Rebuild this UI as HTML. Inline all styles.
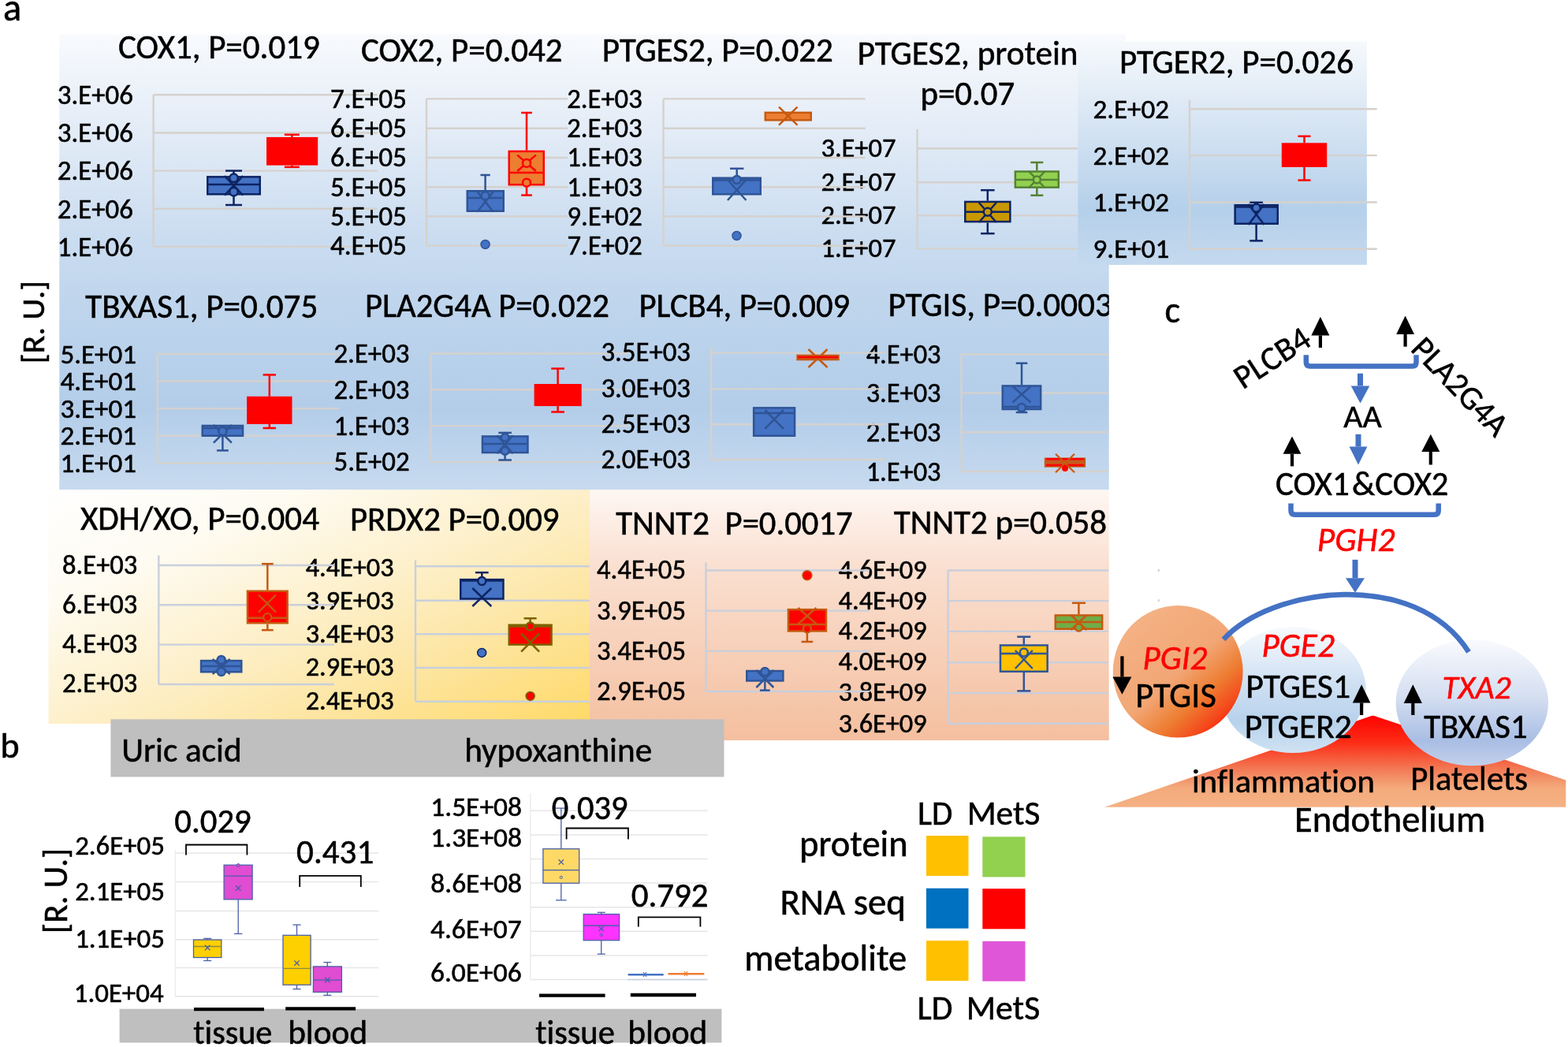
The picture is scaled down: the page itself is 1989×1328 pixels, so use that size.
<!DOCTYPE html>
<html><head><meta charset="utf-8"><title>Figure</title><style>html,body{margin:0;padding:0;background:#fff;}svg{display:block;}text{font-variant-ligatures:none;font-feature-settings:"liga" 0,"clig" 0;}</style></head><body>
<svg width="1989" height="1328" viewBox="0 0 1989 1328" font-family="Carlito, 'Liberation Sans', Arial, sans-serif">
<defs>
<linearGradient id="gBlue" gradientUnits="userSpaceOnUse" x1="0" y1="44" x2="0" y2="621">
 <stop offset="0" stop-color="#f8fafd"/>
 <stop offset="0.13" stop-color="#ebf1f9"/>
 <stop offset="0.27" stop-color="#dde8f5"/>
 <stop offset="0.45" stop-color="#cadcf0"/>
 <stop offset="0.62" stop-color="#bdd4ec"/>
 <stop offset="0.82" stop-color="#b3cde9"/>
 <stop offset="1" stop-color="#c7daef"/>
</linearGradient>
<linearGradient id="gBlue2" gradientUnits="userSpaceOnUse" x1="0" y1="53" x2="0" y2="336">
 <stop offset="0" stop-color="#f6f9fc"/>
 <stop offset="0.3" stop-color="#dce8f5"/>
 <stop offset="0.75" stop-color="#b5d0ea"/>
 <stop offset="1" stop-color="#c4d9ee"/>
</linearGradient>
<linearGradient id="gYel" x1="0" y1="0" x2="1" y2="1">
 <stop offset="0" stop-color="#ffffff"/>
 <stop offset="0.25" stop-color="#fefbf2"/>
 <stop offset="0.5" stop-color="#fdf0cc"/>
 <stop offset="0.72" stop-color="#fde6a4"/>
 <stop offset="1" stop-color="#ffd966"/>
</linearGradient>
<linearGradient id="gOra" gradientUnits="userSpaceOnUse" x1="0" y1="621" x2="0" y2="939">
 <stop offset="0" stop-color="#fef7f3"/>
 <stop offset="0.3" stop-color="#fae0d1"/>
 <stop offset="1" stop-color="#f4bf9f"/>
</linearGradient>
<linearGradient id="gPGI" gradientUnits="userSpaceOnUse" x1="1445" y1="790" x2="1565" y2="925">
 <stop offset="0" stop-color="#f4b183"/>
 <stop offset="0.45" stop-color="#f2a675"/>
 <stop offset="0.68" stop-color="#ed7d31"/>
 <stop offset="0.86" stop-color="#f5461b"/>
 <stop offset="1" stop-color="#ff0000"/>
</linearGradient>
<linearGradient id="gPGE" x1="0" y1="0" x2="0" y2="1">
 <stop offset="0" stop-color="#f7fafd"/>
 <stop offset="0.45" stop-color="#cfe0f2"/>
 <stop offset="0.75" stop-color="#b7d2ec"/>
 <stop offset="1" stop-color="#d0e2f3"/>
</linearGradient>
<linearGradient id="gTXA" x1="0" y1="0" x2="0" y2="1">
 <stop offset="0" stop-color="#f9fafd"/>
 <stop offset="0.45" stop-color="#d5dff1"/>
 <stop offset="0.8" stop-color="#a9bee4"/>
 <stop offset="1" stop-color="#c3d0ec"/>
</linearGradient>
<linearGradient id="gMnt" gradientUnits="userSpaceOnUse" x1="0" y1="905" x2="0" y2="1023">
 <stop offset="0" stop-color="#ff0000"/>
 <stop offset="0.3" stop-color="#fd2a14"/>
 <stop offset="0.6" stop-color="#f27a55"/>
 <stop offset="0.8" stop-color="#f4aa7c"/>
 <stop offset="1" stop-color="#f4b183"/>
</linearGradient>
<clipPath id="clipA"><rect x="0" y="0" width="1406.7" height="1328"/></clipPath>
</defs>
<rect x="0" y="0" width="1989" height="1328" fill="#fff"/>
<rect x="61.5" y="610.5" width="686.5" height="307.5" fill="url(#gYel)"/>
<rect x="748" y="620" width="658.7" height="319" fill="url(#gOra)"/>
<path d="M75.3 43.6 H1427.5 V336 H1406.7 V621 H75.3 Z" fill="url(#gBlue)"/>
<rect x="1367.3" y="52.5" width="366.6" height="283.4" fill="url(#gBlue2)"/>
<text x="72.83" y="132.1" font-size="34.82" textLength="96.09" lengthAdjust="spacingAndGlyphs" stroke="#000" stroke-width="0.55">3.E+06</text>
<text x="72.83" y="180.25" font-size="34.82" textLength="96.09" lengthAdjust="spacingAndGlyphs" stroke="#000" stroke-width="0.55">3.E+06</text>
<text x="72.83" y="228.4" font-size="34.82" textLength="96.09" lengthAdjust="spacingAndGlyphs" stroke="#000" stroke-width="0.55">2.E+06</text>
<text x="72.83" y="276.55" font-size="34.82" textLength="96.09" lengthAdjust="spacingAndGlyphs" stroke="#000" stroke-width="0.55">2.E+06</text>
<text x="72.83" y="324.7" font-size="34.82" textLength="96.09" lengthAdjust="spacingAndGlyphs" stroke="#000" stroke-width="0.55">1.E+06</text>
<text x="1041.45" y="198.7" font-size="34.41" textLength="94.96" lengthAdjust="spacingAndGlyphs" stroke="#000" stroke-width="0.55">3.E+07</text>
<text x="1041.45" y="241.7" font-size="34.41" textLength="94.96" lengthAdjust="spacingAndGlyphs" stroke="#000" stroke-width="0.55">2.E+07</text>
<text x="1041.45" y="283.9" font-size="34.41" textLength="94.96" lengthAdjust="spacingAndGlyphs" stroke="#000" stroke-width="0.55">2.E+07</text>
<text x="1041.45" y="325.9" font-size="34.41" textLength="94.96" lengthAdjust="spacingAndGlyphs" stroke="#000" stroke-width="0.55">1.E+07</text>
<text x="1386.42" y="149.7" font-size="35.03" textLength="96.66" lengthAdjust="spacingAndGlyphs" stroke="#000" stroke-width="0.55">2.E+02</text>
<text x="1386.42" y="208.6" font-size="35.03" textLength="96.66" lengthAdjust="spacingAndGlyphs" stroke="#000" stroke-width="0.55">2.E+02</text>
<text x="1386.42" y="268" font-size="35.03" textLength="96.66" lengthAdjust="spacingAndGlyphs" stroke="#000" stroke-width="0.55">1.E+02</text>
<text x="1386.6" y="327.2" font-size="35.03" textLength="96.66" lengthAdjust="spacingAndGlyphs" stroke="#000" stroke-width="0.55">9.E+01</text>
<text x="76.42" y="460.5" font-size="35.02" textLength="96.63" lengthAdjust="spacingAndGlyphs" stroke="#000" stroke-width="0.55">5.E+01</text>
<text x="76.42" y="495.07" font-size="35.02" textLength="96.63" lengthAdjust="spacingAndGlyphs" stroke="#000" stroke-width="0.55">4.E+01</text>
<text x="76.42" y="529.65" font-size="35.02" textLength="96.63" lengthAdjust="spacingAndGlyphs" stroke="#000" stroke-width="0.55">3.E+01</text>
<text x="76.42" y="564.23" font-size="35.02" textLength="96.63" lengthAdjust="spacingAndGlyphs" stroke="#000" stroke-width="0.55">2.E+01</text>
<text x="76.42" y="598.8" font-size="35.02" textLength="96.63" lengthAdjust="spacingAndGlyphs" stroke="#000" stroke-width="0.55">1.E+01</text>
<text x="1098.68" y="460.5" font-size="34.35" textLength="94.8" lengthAdjust="spacingAndGlyphs" stroke="#000" stroke-width="0.55">4.E+03</text>
<text x="1098.68" y="510" font-size="34.35" textLength="94.8" lengthAdjust="spacingAndGlyphs" stroke="#000" stroke-width="0.55">3.E+03</text>
<text x="1098.68" y="560" font-size="34.35" textLength="94.8" lengthAdjust="spacingAndGlyphs" stroke="#000" stroke-width="0.55">2.E+03</text>
<text x="1098.68" y="609.6" font-size="34.35" textLength="94.8" lengthAdjust="spacingAndGlyphs" stroke="#000" stroke-width="0.55">1.E+03</text>
<text x="79.12" y="727.6" font-size="34.49" textLength="95.17" lengthAdjust="spacingAndGlyphs" stroke="#000" stroke-width="0.55">8.E+03</text>
<text x="79.12" y="777.8" font-size="34.49" textLength="95.17" lengthAdjust="spacingAndGlyphs" stroke="#000" stroke-width="0.55">6.E+03</text>
<text x="79.12" y="828.2" font-size="34.49" textLength="95.17" lengthAdjust="spacingAndGlyphs" stroke="#000" stroke-width="0.55">4.E+03</text>
<text x="79.12" y="878.4" font-size="34.49" textLength="95.17" lengthAdjust="spacingAndGlyphs" stroke="#000" stroke-width="0.55">2.E+03</text>
<text x="387.69" y="730.6" font-size="34.25" textLength="111.86" lengthAdjust="spacingAndGlyphs" stroke="#000" stroke-width="0.55">4.4E+03</text>
<text x="387.69" y="772.8" font-size="34.25" textLength="111.86" lengthAdjust="spacingAndGlyphs" stroke="#000" stroke-width="0.55">3.9E+03</text>
<text x="387.69" y="815" font-size="34.25" textLength="111.86" lengthAdjust="spacingAndGlyphs" stroke="#000" stroke-width="0.55">3.4E+03</text>
<text x="387.69" y="857.3" font-size="34.25" textLength="111.86" lengthAdjust="spacingAndGlyphs" stroke="#000" stroke-width="0.55">2.9E+03</text>
<text x="387.69" y="899.5" font-size="34.25" textLength="111.86" lengthAdjust="spacingAndGlyphs" stroke="#000" stroke-width="0.55">2.4E+03</text>
<text x="756.88" y="734.4" font-size="34.62" textLength="113.07" lengthAdjust="spacingAndGlyphs" stroke="#000" stroke-width="0.55">4.4E+05</text>
<text x="756.88" y="785.6" font-size="34.62" textLength="113.07" lengthAdjust="spacingAndGlyphs" stroke="#000" stroke-width="0.55">3.9E+05</text>
<text x="756.88" y="836.8" font-size="34.62" textLength="113.07" lengthAdjust="spacingAndGlyphs" stroke="#000" stroke-width="0.55">3.4E+05</text>
<text x="756.88" y="888" font-size="34.62" textLength="113.07" lengthAdjust="spacingAndGlyphs" stroke="#000" stroke-width="0.55">2.9E+05</text>
<text x="1063.59" y="734.4" font-size="34.32" textLength="112.09" lengthAdjust="spacingAndGlyphs" stroke="#000" stroke-width="0.55">4.6E+09</text>
<text x="1063.59" y="773" font-size="34.32" textLength="112.09" lengthAdjust="spacingAndGlyphs" stroke="#000" stroke-width="0.55">4.4E+09</text>
<text x="1063.59" y="811.2" font-size="34.32" textLength="112.09" lengthAdjust="spacingAndGlyphs" stroke="#000" stroke-width="0.55">4.2E+09</text>
<text x="1063.59" y="849.8" font-size="34.32" textLength="112.09" lengthAdjust="spacingAndGlyphs" stroke="#000" stroke-width="0.55">4.0E+09</text>
<text x="1063.59" y="889.2" font-size="34.32" textLength="112.09" lengthAdjust="spacingAndGlyphs" stroke="#000" stroke-width="0.55">3.8E+09</text>
<text x="1063.59" y="928.5" font-size="34.32" textLength="112.09" lengthAdjust="spacingAndGlyphs" stroke="#000" stroke-width="0.55">3.6E+09</text>
<text x="95.13" y="1084.4" font-size="34.85" textLength="113.83" lengthAdjust="spacingAndGlyphs" stroke="#000" stroke-width="0.55">2.6E+05</text>
<text x="95.13" y="1142.4" font-size="34.85" textLength="113.83" lengthAdjust="spacingAndGlyphs" stroke="#000" stroke-width="0.55">2.1E+05</text>
<text x="95.13" y="1202" font-size="34.85" textLength="113.83" lengthAdjust="spacingAndGlyphs" stroke="#000" stroke-width="0.55">1.1E+05</text>
<text x="93.74" y="1270.7" font-size="34.85" textLength="113.83" lengthAdjust="spacingAndGlyphs" stroke="#000" stroke-width="0.55">1.0E+04</text>
<text x="546.29" y="1035.4" font-size="35.41" textLength="115.67" lengthAdjust="spacingAndGlyphs" stroke="#000" stroke-width="0.55">1.5E+08</text>
<text x="546.29" y="1074.1" font-size="35.41" textLength="115.67" lengthAdjust="spacingAndGlyphs" stroke="#000" stroke-width="0.55">1.3E+08</text>
<text x="546.29" y="1131.5" font-size="35.41" textLength="115.67" lengthAdjust="spacingAndGlyphs" stroke="#000" stroke-width="0.55">8.6E+08</text>
<text x="545.94" y="1190.1" font-size="35.41" textLength="115.67" lengthAdjust="spacingAndGlyphs" stroke="#000" stroke-width="0.55">4.6E+07</text>
<text x="545.94" y="1245" font-size="35.41" textLength="115.67" lengthAdjust="spacingAndGlyphs" stroke="#000" stroke-width="0.55">6.0E+06</text>
<line x1="194.6" y1="120.3" x2="478.7" y2="120.3" stroke="#d5d1cd" stroke-width="2.4"/>
<line x1="194.6" y1="168.45" x2="478.7" y2="168.45" stroke="#d5d1cd" stroke-width="2.4"/>
<line x1="194.6" y1="216.6" x2="478.7" y2="216.6" stroke="#d5d1cd" stroke-width="2.4"/>
<line x1="194.6" y1="264.75" x2="478.7" y2="264.75" stroke="#d5d1cd" stroke-width="2.4"/>
<line x1="194.6" y1="312.9" x2="478.7" y2="312.9" stroke="#d5d1cd" stroke-width="2.4"/>
<line x1="194.6" y1="120.3" x2="194.6" y2="312.9" stroke="#d5d1cd" stroke-width="2.4"/>
<line x1="541" y1="125.4" x2="720" y2="125.4" stroke="#d5d1cd" stroke-width="2.4"/>
<line x1="541" y1="162.68" x2="720" y2="162.68" stroke="#d5d1cd" stroke-width="2.4"/>
<line x1="541" y1="199.96" x2="720" y2="199.96" stroke="#d5d1cd" stroke-width="2.4"/>
<line x1="541" y1="237.24" x2="720" y2="237.24" stroke="#d5d1cd" stroke-width="2.4"/>
<line x1="541" y1="274.52" x2="720" y2="274.52" stroke="#d5d1cd" stroke-width="2.4"/>
<line x1="541" y1="311.8" x2="720" y2="311.8" stroke="#d5d1cd" stroke-width="2.4"/>
<line x1="541" y1="125.4" x2="541" y2="311.8" stroke="#d5d1cd" stroke-width="2.4"/>
<line x1="841.5" y1="125.4" x2="1097.7" y2="125.4" stroke="#d5d1cd" stroke-width="2.4"/>
<line x1="841.5" y1="162.68" x2="1097.7" y2="162.68" stroke="#d5d1cd" stroke-width="2.4"/>
<line x1="841.5" y1="199.96" x2="1097.7" y2="199.96" stroke="#d5d1cd" stroke-width="2.4"/>
<line x1="841.5" y1="237.24" x2="1097.7" y2="237.24" stroke="#d5d1cd" stroke-width="2.4"/>
<line x1="841.5" y1="274.52" x2="1097.7" y2="274.52" stroke="#d5d1cd" stroke-width="2.4"/>
<line x1="841.5" y1="311.8" x2="1097.7" y2="311.8" stroke="#d5d1cd" stroke-width="2.4"/>
<line x1="841.5" y1="125.4" x2="841.5" y2="311.8" stroke="#d5d1cd" stroke-width="2.4"/>
<line x1="1163.5" y1="188.2" x2="1367" y2="188.2" stroke="#d5d1cd" stroke-width="2.4"/>
<line x1="1163.5" y1="231.2" x2="1367" y2="231.2" stroke="#d5d1cd" stroke-width="2.4"/>
<line x1="1163.5" y1="273.4" x2="1367" y2="273.4" stroke="#d5d1cd" stroke-width="2.4"/>
<line x1="1163.5" y1="315.4" x2="1367" y2="315.4" stroke="#d5d1cd" stroke-width="2.4"/>
<line x1="1163.5" y1="163.9" x2="1163.5" y2="315.4" stroke="#d5d1cd" stroke-width="2.4"/>
<line x1="1509" y1="138.2" x2="1746.7" y2="138.2" stroke="#d5d1cd" stroke-width="2.4"/>
<line x1="1509" y1="197.1" x2="1746.7" y2="197.1" stroke="#d5d1cd" stroke-width="2.4"/>
<line x1="1509" y1="256.5" x2="1746.7" y2="256.5" stroke="#d5d1cd" stroke-width="2.4"/>
<line x1="1509" y1="315.7" x2="1746.7" y2="315.7" stroke="#d5d1cd" stroke-width="2.4"/>
<line x1="1509" y1="126.7" x2="1509" y2="315.7" stroke="#d5d1cd" stroke-width="2.4"/>
<line x1="199.7" y1="449" x2="430" y2="449" stroke="#d5d1cd" stroke-width="2.4"/>
<line x1="199.7" y1="483.57" x2="430" y2="483.57" stroke="#d5d1cd" stroke-width="2.4"/>
<line x1="199.7" y1="518.15" x2="430" y2="518.15" stroke="#d5d1cd" stroke-width="2.4"/>
<line x1="199.7" y1="552.73" x2="430" y2="552.73" stroke="#d5d1cd" stroke-width="2.4"/>
<line x1="199.7" y1="587.3" x2="430" y2="587.3" stroke="#d5d1cd" stroke-width="2.4"/>
<line x1="199.7" y1="449" x2="199.7" y2="587.3" stroke="#d5d1cd" stroke-width="2.4"/>
<line x1="546.5" y1="448.5" x2="798.7" y2="448.5" stroke="#d5d1cd" stroke-width="2.4"/>
<line x1="546.5" y1="494.3" x2="798.7" y2="494.3" stroke="#d5d1cd" stroke-width="2.4"/>
<line x1="546.5" y1="540.1" x2="798.7" y2="540.1" stroke="#d5d1cd" stroke-width="2.4"/>
<line x1="546.5" y1="585.9" x2="798.7" y2="585.9" stroke="#d5d1cd" stroke-width="2.4"/>
<line x1="546.5" y1="448.5" x2="546.5" y2="585.9" stroke="#d5d1cd" stroke-width="2.4"/>
<line x1="902" y1="447.6" x2="1123.5" y2="447.6" stroke="#d5d1cd" stroke-width="2.4"/>
<line x1="902" y1="493.4" x2="1123.5" y2="493.4" stroke="#d5d1cd" stroke-width="2.4"/>
<line x1="902" y1="538.3" x2="1123.5" y2="538.3" stroke="#d5d1cd" stroke-width="2.4"/>
<line x1="902" y1="583" x2="1123.5" y2="583" stroke="#d5d1cd" stroke-width="2.4"/>
<line x1="902" y1="439.6" x2="902" y2="583" stroke="#d5d1cd" stroke-width="2.4"/>
<line x1="1219.5" y1="449.5" x2="1406.7" y2="449.5" stroke="#d5d1cd" stroke-width="2.4"/>
<line x1="1219.5" y1="498.6" x2="1406.7" y2="498.6" stroke="#d5d1cd" stroke-width="2.4"/>
<line x1="1219.5" y1="548.3" x2="1406.7" y2="548.3" stroke="#d5d1cd" stroke-width="2.4"/>
<line x1="1219.5" y1="598" x2="1406.7" y2="598" stroke="#d5d1cd" stroke-width="2.4"/>
<line x1="1219.5" y1="449.5" x2="1219.5" y2="598" stroke="#d5d1cd" stroke-width="2.4"/>
<line x1="201.3" y1="717" x2="424" y2="717" stroke="#c9cfdc" stroke-width="2.4"/>
<line x1="201.3" y1="767.2" x2="424" y2="767.2" stroke="#c9cfdc" stroke-width="2.4"/>
<line x1="201.3" y1="817.6" x2="424" y2="817.6" stroke="#c9cfdc" stroke-width="2.4"/>
<line x1="201.3" y1="868" x2="424" y2="868" stroke="#c9cfdc" stroke-width="2.4"/>
<line x1="201.3" y1="704.5" x2="201.3" y2="868" stroke="#c9cfdc" stroke-width="2.4"/>
<line x1="527" y1="718.3" x2="747.7" y2="718.3" stroke="#c9cfdc" stroke-width="2.4"/>
<line x1="527" y1="761.8" x2="747.7" y2="761.8" stroke="#c9cfdc" stroke-width="2.4"/>
<line x1="527" y1="804.3" x2="747.7" y2="804.3" stroke="#c9cfdc" stroke-width="2.4"/>
<line x1="527" y1="847" x2="747.7" y2="847" stroke="#c9cfdc" stroke-width="2.4"/>
<line x1="527" y1="889.8" x2="747.7" y2="889.8" stroke="#c9cfdc" stroke-width="2.4"/>
<line x1="527" y1="710.6" x2="527" y2="889.8" stroke="#c9cfdc" stroke-width="2.4"/>
<line x1="895.5" y1="723.5" x2="1103" y2="723.5" stroke="#c9cfdc" stroke-width="2.4"/>
<line x1="895.5" y1="774.6" x2="1103" y2="774.6" stroke="#c9cfdc" stroke-width="2.4"/>
<line x1="895.5" y1="825.9" x2="1103" y2="825.9" stroke="#c9cfdc" stroke-width="2.4"/>
<line x1="895.5" y1="877" x2="1103" y2="877" stroke="#c9cfdc" stroke-width="2.4"/>
<line x1="895.5" y1="713.5" x2="895.5" y2="877" stroke="#c9cfdc" stroke-width="2.4"/>
<line x1="1202.6" y1="723.5" x2="1406.2" y2="723.5" stroke="#c9cfdc" stroke-width="2.4"/>
<line x1="1202.6" y1="762.1" x2="1406.2" y2="762.1" stroke="#c9cfdc" stroke-width="2.4"/>
<line x1="1202.6" y1="800.9" x2="1406.2" y2="800.9" stroke="#c9cfdc" stroke-width="2.4"/>
<line x1="1202.6" y1="840.3" x2="1406.2" y2="840.3" stroke="#c9cfdc" stroke-width="2.4"/>
<line x1="1202.6" y1="879.1" x2="1406.2" y2="879.1" stroke="#c9cfdc" stroke-width="2.4"/>
<line x1="1202.6" y1="917.7" x2="1406.2" y2="917.7" stroke="#c9cfdc" stroke-width="2.4"/>
<line x1="1202.6" y1="723.5" x2="1202.6" y2="917.7" stroke="#c9cfdc" stroke-width="2.4"/>
<text x="418.92" y="136.9" font-size="35.15" textLength="96.99" lengthAdjust="spacingAndGlyphs" stroke="#000" stroke-width="0.55">7.E+05</text>
<text x="418.92" y="174.18" font-size="35.15" textLength="96.99" lengthAdjust="spacingAndGlyphs" stroke="#000" stroke-width="0.55">6.E+05</text>
<text x="418.92" y="211.46" font-size="35.15" textLength="96.99" lengthAdjust="spacingAndGlyphs" stroke="#000" stroke-width="0.55">6.E+05</text>
<text x="418.92" y="248.74" font-size="35.15" textLength="96.99" lengthAdjust="spacingAndGlyphs" stroke="#000" stroke-width="0.55">5.E+05</text>
<text x="418.92" y="286.02" font-size="35.15" textLength="96.99" lengthAdjust="spacingAndGlyphs" stroke="#000" stroke-width="0.55">5.E+05</text>
<text x="418.92" y="323.3" font-size="35.15" textLength="96.99" lengthAdjust="spacingAndGlyphs" stroke="#000" stroke-width="0.55">4.E+05</text>
<text x="719.24" y="136.9" font-size="34.59" textLength="95.45" lengthAdjust="spacingAndGlyphs" stroke="#000" stroke-width="0.55">2.E+03</text>
<text x="719.24" y="174.18" font-size="34.59" textLength="95.45" lengthAdjust="spacingAndGlyphs" stroke="#000" stroke-width="0.55">2.E+03</text>
<text x="719.24" y="211.46" font-size="34.59" textLength="95.45" lengthAdjust="spacingAndGlyphs" stroke="#000" stroke-width="0.55">1.E+03</text>
<text x="719.24" y="248.74" font-size="34.59" textLength="95.45" lengthAdjust="spacingAndGlyphs" stroke="#000" stroke-width="0.55">1.E+03</text>
<text x="719.42" y="286.02" font-size="34.59" textLength="95.45" lengthAdjust="spacingAndGlyphs" stroke="#000" stroke-width="0.55">9.E+02</text>
<text x="719.42" y="323.3" font-size="34.59" textLength="95.45" lengthAdjust="spacingAndGlyphs" stroke="#000" stroke-width="0.55">7.E+02</text>
<text x="423.41" y="460" font-size="34.82" textLength="96.09" lengthAdjust="spacingAndGlyphs" stroke="#000" stroke-width="0.55">2.E+03</text>
<text x="423.41" y="505.8" font-size="34.82" textLength="96.09" lengthAdjust="spacingAndGlyphs" stroke="#000" stroke-width="0.55">2.E+03</text>
<text x="423.41" y="551.6" font-size="34.82" textLength="96.09" lengthAdjust="spacingAndGlyphs" stroke="#000" stroke-width="0.55">1.E+03</text>
<text x="423.58" y="597.4" font-size="34.82" textLength="96.09" lengthAdjust="spacingAndGlyphs" stroke="#000" stroke-width="0.55">5.E+02</text>
<text x="762.44" y="458" font-size="34.76" textLength="113.52" lengthAdjust="spacingAndGlyphs" stroke="#000" stroke-width="0.55">3.5E+03</text>
<text x="762.44" y="504" font-size="34.76" textLength="113.52" lengthAdjust="spacingAndGlyphs" stroke="#000" stroke-width="0.55">3.0E+03</text>
<text x="762.44" y="549.3" font-size="34.76" textLength="113.52" lengthAdjust="spacingAndGlyphs" stroke="#000" stroke-width="0.55">2.5E+03</text>
<text x="762.44" y="594" font-size="34.76" textLength="113.52" lengthAdjust="spacingAndGlyphs" stroke="#000" stroke-width="0.55">2.0E+03</text>
<line x1="370.3" y1="170.8" x2="370.3" y2="173.9" stroke="#ff0000" stroke-width="2.5"/>
<line x1="360.8" y1="170.8" x2="379.8" y2="170.8" stroke="#ff0000" stroke-width="2.5"/>
<line x1="370.3" y1="209.7" x2="370.3" y2="211.9" stroke="#ff0000" stroke-width="2.5"/>
<line x1="360.8" y1="211.9" x2="379.8" y2="211.9" stroke="#ff0000" stroke-width="2.5"/>
<rect x="339.25" y="175.15" width="62.7" height="33.3" fill="#ff0000" stroke="#ff0000" stroke-width="2.5"/>
<line x1="296.5" y1="216.6" x2="296.5" y2="223.1" stroke="#0d2463" stroke-width="2.5"/>
<line x1="286" y1="216.6" x2="307" y2="216.6" stroke="#0d2463" stroke-width="2.5"/>
<line x1="296.5" y1="247.6" x2="296.5" y2="260" stroke="#0d2463" stroke-width="2.5"/>
<line x1="286" y1="260" x2="307" y2="260" stroke="#0d2463" stroke-width="2.5"/>
<rect x="263.25" y="224.35" width="66.5" height="22" fill="#4472c4" stroke="#0d2463" stroke-width="2.5"/>
<line x1="263.25" y1="234.1" x2="329.75" y2="234.1" stroke="#0d2463" stroke-width="2.5"/>
<line x1="284.9" y1="223.1" x2="308.1" y2="247.6" stroke="#0d2463" stroke-width="2.5"/>
<line x1="308.1" y1="223.1" x2="284.9" y2="247.6" stroke="#0d2463" stroke-width="2.5"/>
<circle cx="296.5" cy="225.8" r="5.2" fill="#4472c4" stroke="#0d2463" stroke-width="2.5"/>
<circle cx="296.5" cy="243.2" r="5.2" fill="#4472c4" stroke="#0d2463" stroke-width="2.5"/>
<line x1="668" y1="143" x2="668" y2="190.7" stroke="#ff0000" stroke-width="2.5"/>
<line x1="661.15" y1="143" x2="674.85" y2="143" stroke="#ff0000" stroke-width="2.5"/>
<line x1="668" y1="235.5" x2="668" y2="247.6" stroke="#ff0000" stroke-width="2.5"/>
<line x1="661.15" y1="247.6" x2="674.85" y2="247.6" stroke="#ff0000" stroke-width="2.5"/>
<rect x="645.75" y="191.95" width="44" height="42.3" fill="#ed7d31" stroke="#ff0000" stroke-width="2.5"/>
<line x1="645.75" y1="219" x2="689.75" y2="219" stroke="#ff0000" stroke-width="2.5"/>
<line x1="656.2" y1="196.6" x2="679.8" y2="217" stroke="#ff0000" stroke-width="2.5"/>
<line x1="679.8" y1="196.6" x2="656.2" y2="217" stroke="#ff0000" stroke-width="2.5"/>
<circle cx="668" cy="206.9" r="5" fill="#ed7d31" stroke="#ff0000" stroke-width="2.5"/>
<circle cx="668" cy="231.7" r="5" fill="#ed7d31" stroke="#ff0000" stroke-width="2.5"/>
<line x1="615.6" y1="222" x2="615.6" y2="241" stroke="#2f5597" stroke-width="2.5"/>
<line x1="609.45" y1="222" x2="621.75" y2="222" stroke="#2f5597" stroke-width="2.5"/>
<rect x="592.75" y="242.25" width="46" height="25.5" fill="#4472c4" stroke="#2f5597" stroke-width="2.5"/>
<line x1="592.75" y1="250.9" x2="638.75" y2="250.9" stroke="#2f5597" stroke-width="2.5"/>
<line x1="605.4" y1="243" x2="625.8" y2="268.8" stroke="#2f5597" stroke-width="2.5"/>
<line x1="625.8" y1="243" x2="605.4" y2="268.8" stroke="#2f5597" stroke-width="2.5"/>
<circle cx="615.6" cy="248.3" r="5" fill="#4472c4" stroke="#2f5597" stroke-width="2.5"/>
<circle cx="615.6" cy="310" r="5.5" fill="#4472c4" stroke="#2f5597" stroke-width="1.5"/>
<rect x="970.75" y="142.85" width="58" height="9.5" fill="#ed7d31" stroke="#c55a11" stroke-width="2.5"/>
<line x1="988" y1="135.7" x2="1011.5" y2="158.7" stroke="#c55a11" stroke-width="2.5"/>
<line x1="1011.5" y1="135.7" x2="988" y2="158.7" stroke="#c55a11" stroke-width="2.5"/>
<line x1="934.7" y1="213.8" x2="934.7" y2="224.5" stroke="#2f5597" stroke-width="2.5"/>
<line x1="926" y1="213.8" x2="943.4" y2="213.8" stroke="#2f5597" stroke-width="2.5"/>
<rect x="904.25" y="225.75" width="60.5" height="20.6" fill="#4472c4" stroke="#2f5597" stroke-width="2.5"/>
<line x1="904.25" y1="228.6" x2="964.75" y2="228.6" stroke="#2f5597" stroke-width="2.5"/>
<line x1="922.95" y1="228" x2="946.45" y2="254" stroke="#2f5597" stroke-width="2.5"/>
<line x1="946.45" y1="228" x2="922.95" y2="254" stroke="#2f5597" stroke-width="2.5"/>
<circle cx="934.7" cy="228" r="5" fill="#4472c4" stroke="#2f5597" stroke-width="2.5"/>
<circle cx="934.5" cy="299" r="5.5" fill="#4472c4" stroke="#2f5597" stroke-width="1.5"/>
<line x1="1252.8" y1="241.2" x2="1252.8" y2="254.7" stroke="#0d2463" stroke-width="2.5"/>
<line x1="1244" y1="241.2" x2="1261.6" y2="241.2" stroke="#0d2463" stroke-width="2.5"/>
<line x1="1252.8" y1="282.4" x2="1252.8" y2="296.2" stroke="#0d2463" stroke-width="2.5"/>
<line x1="1244" y1="296.2" x2="1261.6" y2="296.2" stroke="#0d2463" stroke-width="2.5"/>
<rect x="1224.25" y="255.95" width="57.1" height="25.2" fill="#c99700" stroke="#0d2463" stroke-width="2.5"/>
<line x1="1224.25" y1="268.8" x2="1281.35" y2="268.8" stroke="#0d2463" stroke-width="2.5"/>
<line x1="1241.8" y1="257" x2="1263.8" y2="282" stroke="#0d2463" stroke-width="2.5"/>
<line x1="1263.8" y1="257" x2="1241.8" y2="282" stroke="#0d2463" stroke-width="2.5"/>
<circle cx="1252.8" cy="268.8" r="5" fill="#c99700" stroke="#0d2463" stroke-width="2.5"/>
<line x1="1315.3" y1="206" x2="1315.3" y2="216.3" stroke="#548235" stroke-width="2.5"/>
<line x1="1307.3" y1="206" x2="1323.3" y2="206" stroke="#548235" stroke-width="2.5"/>
<line x1="1315.3" y1="238.9" x2="1315.3" y2="247.8" stroke="#548235" stroke-width="2.5"/>
<line x1="1307.3" y1="247.8" x2="1323.3" y2="247.8" stroke="#548235" stroke-width="2.5"/>
<rect x="1287.85" y="217.55" width="54.9" height="20.1" fill="#92d050" stroke="#548235" stroke-width="2.5"/>
<line x1="1287.85" y1="227.9" x2="1342.75" y2="227.9" stroke="#548235" stroke-width="2.5"/>
<line x1="1304.8" y1="217" x2="1325.8" y2="238.5" stroke="#548235" stroke-width="2.5"/>
<line x1="1325.8" y1="217" x2="1304.8" y2="238.5" stroke="#548235" stroke-width="2.5"/>
<circle cx="1315.3" cy="227.9" r="4.5" fill="#92d050" stroke="#548235" stroke-width="2.5"/>
<line x1="1654.5" y1="172.8" x2="1654.5" y2="181.3" stroke="#ff0000" stroke-width="2.5"/>
<line x1="1646.5" y1="172.8" x2="1662.5" y2="172.8" stroke="#ff0000" stroke-width="2.5"/>
<line x1="1654.5" y1="212" x2="1654.5" y2="228.6" stroke="#ff0000" stroke-width="2.5"/>
<line x1="1646.5" y1="228.6" x2="1662.5" y2="228.6" stroke="#ff0000" stroke-width="2.5"/>
<rect x="1627.05" y="182.55" width="54.9" height="28.2" fill="#ff0000" stroke="#ff0000" stroke-width="2.5"/>
<line x1="1593.6" y1="256.8" x2="1593.6" y2="259" stroke="#0d2463" stroke-width="2.5"/>
<line x1="1585.3" y1="256.8" x2="1601.9" y2="256.8" stroke="#0d2463" stroke-width="2.5"/>
<line x1="1593.6" y1="285" x2="1593.6" y2="305.4" stroke="#0d2463" stroke-width="2.5"/>
<line x1="1585.3" y1="305.4" x2="1601.9" y2="305.4" stroke="#0d2463" stroke-width="2.5"/>
<rect x="1566.65" y="260.25" width="54.1" height="23.5" fill="#4472c4" stroke="#0d2463" stroke-width="2.5"/>
<line x1="1566.65" y1="262.4" x2="1620.75" y2="262.4" stroke="#0d2463" stroke-width="2.5"/>
<line x1="1583.6" y1="259" x2="1603.6" y2="285" stroke="#0d2463" stroke-width="2.5"/>
<line x1="1603.6" y1="259" x2="1583.6" y2="285" stroke="#0d2463" stroke-width="2.5"/>
<circle cx="1593.6" cy="263.7" r="5" fill="#4472c4" stroke="#0d2463" stroke-width="2.5"/>
<line x1="341.8" y1="475.4" x2="341.8" y2="502.8" stroke="#ff0000" stroke-width="2.5"/>
<line x1="333.6" y1="475.4" x2="350" y2="475.4" stroke="#ff0000" stroke-width="2.5"/>
<line x1="341.8" y1="537.9" x2="341.8" y2="543" stroke="#ff0000" stroke-width="2.5"/>
<line x1="333.6" y1="543" x2="350" y2="543" stroke="#ff0000" stroke-width="2.5"/>
<rect x="314.35" y="504.05" width="54.9" height="32.6" fill="#ff0000" stroke="#ff0000" stroke-width="2.5"/>
<line x1="282.4" y1="554" x2="282.4" y2="571.4" stroke="#2f5597" stroke-width="2.5"/>
<line x1="275" y1="571.4" x2="289.8" y2="571.4" stroke="#2f5597" stroke-width="2.5"/>
<rect x="256.75" y="539.95" width="51.3" height="12.8" fill="#4472c4" stroke="#2f5597" stroke-width="2.5"/>
<line x1="256.75" y1="543" x2="308.05" y2="543" stroke="#2f5597" stroke-width="2.5"/>
<line x1="270.9" y1="539" x2="293.9" y2="561.7" stroke="#2f5597" stroke-width="2.5"/>
<line x1="293.9" y1="539" x2="270.9" y2="561.7" stroke="#2f5597" stroke-width="2.5"/>
<circle cx="282.4" cy="547" r="5" fill="#4472c4" stroke="#2f5597" stroke-width="2.5"/>
<line x1="707.6" y1="467.5" x2="707.6" y2="487" stroke="#ff0000" stroke-width="2.5"/>
<line x1="699.25" y1="467.5" x2="715.95" y2="467.5" stroke="#ff0000" stroke-width="2.5"/>
<line x1="707.6" y1="515.1" x2="707.6" y2="522.5" stroke="#ff0000" stroke-width="2.5"/>
<line x1="699.25" y1="522.5" x2="715.95" y2="522.5" stroke="#ff0000" stroke-width="2.5"/>
<rect x="678.85" y="488.25" width="57.6" height="25.6" fill="#ff0000" stroke="#ff0000" stroke-width="2.5"/>
<line x1="640.6" y1="548.9" x2="640.6" y2="552.2" stroke="#2f5597" stroke-width="2.5"/>
<line x1="632.3" y1="548.9" x2="648.9" y2="548.9" stroke="#2f5597" stroke-width="2.5"/>
<line x1="640.6" y1="575.3" x2="640.6" y2="583.5" stroke="#2f5597" stroke-width="2.5"/>
<line x1="632.3" y1="583.5" x2="648.9" y2="583.5" stroke="#2f5597" stroke-width="2.5"/>
<rect x="611.95" y="553.45" width="57.5" height="20.6" fill="#4472c4" stroke="#2f5597" stroke-width="2.5"/>
<line x1="611.95" y1="563" x2="669.45" y2="563" stroke="#2f5597" stroke-width="2.5"/>
<line x1="630.6" y1="552.2" x2="650.6" y2="575.3" stroke="#2f5597" stroke-width="2.5"/>
<line x1="650.6" y1="552.2" x2="630.6" y2="575.3" stroke="#2f5597" stroke-width="2.5"/>
<circle cx="640.6" cy="554.8" r="4.8" fill="#4472c4" stroke="#2f5597" stroke-width="2.5"/>
<circle cx="640.6" cy="572" r="4.8" fill="#4472c4" stroke="#2f5597" stroke-width="2.5"/>
<rect x="1011.55" y="450.95" width="51.9" height="5.1" fill="#c65a1e" stroke="#c55a11" stroke-width="2.5"/>
<line x1="1025.5" y1="443" x2="1049.5" y2="466" stroke="#c55a11" stroke-width="2.5"/>
<line x1="1049.5" y1="443" x2="1025.5" y2="466" stroke="#c55a11" stroke-width="2.5"/>
<rect x="956.15" y="517.35" width="51.9" height="35.4" fill="#4472c4" stroke="#2f5597" stroke-width="2.5"/>
<line x1="956.15" y1="524" x2="1008.05" y2="524" stroke="#2f5597" stroke-width="2.5"/>
<line x1="970.3" y1="520" x2="993.9" y2="543.9" stroke="#2f5597" stroke-width="2.5"/>
<line x1="993.9" y1="520" x2="970.3" y2="543.9" stroke="#2f5597" stroke-width="2.5"/>
<line x1="1296" y1="460.7" x2="1296" y2="488.2" stroke="#2f5597" stroke-width="2.5"/>
<line x1="1288.7" y1="460.7" x2="1303.3" y2="460.7" stroke="#2f5597" stroke-width="2.5"/>
<line x1="1296" y1="520.3" x2="1296" y2="523" stroke="#2f5597" stroke-width="2.5"/>
<line x1="1288.7" y1="523" x2="1303.3" y2="523" stroke="#2f5597" stroke-width="2.5"/>
<rect x="1271.75" y="489.45" width="48.4" height="29.6" fill="#4472c4" stroke="#2f5597" stroke-width="2.5"/>
<line x1="1271.75" y1="516.1" x2="1320.15" y2="516.1" stroke="#2f5597" stroke-width="2.5"/>
<line x1="1284.5" y1="490" x2="1307.5" y2="510.4" stroke="#2f5597" stroke-width="2.5"/>
<line x1="1307.5" y1="490" x2="1284.5" y2="510.4" stroke="#2f5597" stroke-width="2.5"/>
<circle cx="1296" cy="517" r="5" fill="#4472c4" stroke="#2f5597" stroke-width="2.5"/>
<rect x="1326.05" y="581.75" width="49.8" height="9.7" fill="#c65a1e" stroke="#c55a11" stroke-width="2.5"/>
<line x1="339.3" y1="715.2" x2="339.3" y2="748.5" stroke="#c55a11" stroke-width="2.5"/>
<line x1="331.9" y1="715.2" x2="346.7" y2="715.2" stroke="#c55a11" stroke-width="2.5"/>
<line x1="339.3" y1="791.5" x2="339.3" y2="799.2" stroke="#c55a11" stroke-width="2.5"/>
<line x1="331.9" y1="799.2" x2="346.7" y2="799.2" stroke="#c55a11" stroke-width="2.5"/>
<rect x="313.95" y="749.75" width="50.7" height="40.5" fill="#ff0000" stroke="#c55a11" stroke-width="2.5"/>
<line x1="313.95" y1="783.8" x2="364.65" y2="783.8" stroke="#c55a11" stroke-width="2.5"/>
<rect x="255.05" y="838.05" width="51.2" height="14.2" fill="#4472c4" stroke="#2f5597" stroke-width="2.5"/>
<line x1="255.05" y1="845" x2="306.25" y2="845" stroke="#2f5597" stroke-width="2.5"/>
<line x1="269.7" y1="836" x2="291.7" y2="855" stroke="#2f5597" stroke-width="2.5"/>
<line x1="291.7" y1="836" x2="269.7" y2="855" stroke="#2f5597" stroke-width="2.5"/>
<circle cx="280.7" cy="837" r="5" fill="#4472c4" stroke="#2f5597" stroke-width="2.5"/>
<circle cx="280.7" cy="852" r="5" fill="#4472c4" stroke="#2f5597" stroke-width="2.5"/>
<line x1="611.3" y1="726.2" x2="611.3" y2="733.9" stroke="#0d2463" stroke-width="2.5"/>
<line x1="602.95" y1="726.2" x2="619.65" y2="726.2" stroke="#0d2463" stroke-width="2.5"/>
<rect x="584.25" y="735.15" width="54.2" height="24.4" fill="#4472c4" stroke="#0d2463" stroke-width="2.5"/>
<line x1="584.25" y1="736.5" x2="638.45" y2="736.5" stroke="#0d2463" stroke-width="2.5"/>
<line x1="599.3" y1="746" x2="623.3" y2="769" stroke="#0d2463" stroke-width="2.5"/>
<line x1="623.3" y1="746" x2="599.3" y2="769" stroke="#0d2463" stroke-width="2.5"/>
<circle cx="611.3" cy="737" r="5" fill="#4472c4" stroke="#0d2463" stroke-width="2.5"/>
<circle cx="611.2" cy="827.9" r="5.5" fill="#4472c4" stroke="#0d2463" stroke-width="1.5"/>
<line x1="672.6" y1="784.3" x2="672.6" y2="791.5" stroke="#7f6000" stroke-width="2.5"/>
<line x1="664.55" y1="784.3" x2="680.65" y2="784.3" stroke="#7f6000" stroke-width="2.5"/>
<rect x="645.75" y="792.75" width="53.8" height="24.9" fill="#ff0000" stroke="#7f6000" stroke-width="2.5"/>
<line x1="645.75" y1="794.6" x2="699.55" y2="794.6" stroke="#7f6000" stroke-width="2.5"/>
<line x1="661.1" y1="803.5" x2="684.1" y2="826.6" stroke="#7f6000" stroke-width="2.5"/>
<line x1="684.1" y1="803.5" x2="661.1" y2="826.6" stroke="#7f6000" stroke-width="2.5"/>
<circle cx="672.6" cy="794.6" r="5" fill="#ff0000" stroke="#7f6000" stroke-width="2.5"/>
<circle cx="672.7" cy="882.9" r="5.5" fill="#ff0000" stroke="#7f6000" stroke-width="1.5"/>
<line x1="1023.9" y1="801.7" x2="1023.9" y2="814" stroke="#c55a11" stroke-width="2.5"/>
<line x1="1016.6" y1="814" x2="1031.2" y2="814" stroke="#c55a11" stroke-width="2.5"/>
<rect x="999.95" y="773.15" width="48" height="27.3" fill="#ff0000" stroke="#c55a11" stroke-width="2.5"/>
<line x1="999.95" y1="792" x2="1047.95" y2="792" stroke="#c55a11" stroke-width="2.5"/>
<line x1="1012.4" y1="771" x2="1035.4" y2="791.4" stroke="#c55a11" stroke-width="2.5"/>
<line x1="1035.4" y1="771" x2="1012.4" y2="791.4" stroke="#c55a11" stroke-width="2.5"/>
<circle cx="1023.9" cy="797.4" r="5" fill="#ff0000" stroke="#c55a11" stroke-width="2.5"/>
<circle cx="1023.9" cy="729.8" r="6" fill="#ff0000" stroke="#c55a11" stroke-width="1.5"/>
<line x1="970.3" y1="864.7" x2="970.3" y2="875.6" stroke="#2f5597" stroke-width="2.5"/>
<line x1="963.9" y1="875.6" x2="976.7" y2="875.6" stroke="#2f5597" stroke-width="2.5"/>
<rect x="947.25" y="851.05" width="46.1" height="12.4" fill="#4472c4" stroke="#2f5597" stroke-width="2.5"/>
<line x1="959.3" y1="850" x2="981.3" y2="872" stroke="#2f5597" stroke-width="2.5"/>
<line x1="981.3" y1="850" x2="959.3" y2="872" stroke="#2f5597" stroke-width="2.5"/>
<circle cx="970.3" cy="852" r="5" fill="#4472c4" stroke="#2f5597" stroke-width="2.5"/>
<line x1="1298.8" y1="807.7" x2="1298.8" y2="817.2" stroke="#2f5597" stroke-width="2.5"/>
<line x1="1290.25" y1="807.7" x2="1307.35" y2="807.7" stroke="#2f5597" stroke-width="2.5"/>
<line x1="1298.8" y1="853" x2="1298.8" y2="876.4" stroke="#2f5597" stroke-width="2.5"/>
<line x1="1290.25" y1="876.4" x2="1307.35" y2="876.4" stroke="#2f5597" stroke-width="2.5"/>
<rect x="1268.95" y="818.45" width="59.7" height="33.3" fill="#ffc000" stroke="#2f5597" stroke-width="2.5"/>
<line x1="1268.95" y1="828.9" x2="1328.65" y2="828.9" stroke="#2f5597" stroke-width="2.5"/>
<line x1="1287.8" y1="825" x2="1309.8" y2="848" stroke="#2f5597" stroke-width="2.5"/>
<line x1="1309.8" y1="825" x2="1287.8" y2="848" stroke="#2f5597" stroke-width="2.5"/>
<circle cx="1298.8" cy="827.5" r="5" fill="#ffc000" stroke="#2f5597" stroke-width="2.5"/>
<line x1="1368.4" y1="764.8" x2="1368.4" y2="779.2" stroke="#c55a11" stroke-width="2.5"/>
<line x1="1359.85" y1="764.8" x2="1376.95" y2="764.8" stroke="#c55a11" stroke-width="2.5"/>
<rect x="1338.75" y="780.45" width="59.4" height="17.3" fill="#70ad47" stroke="#c55a11" stroke-width="2.5"/>
<line x1="1338.75" y1="789" x2="1398.15" y2="789" stroke="#c55a11" stroke-width="2.5"/>
<line x1="1358.4" y1="780" x2="1378.4" y2="799" stroke="#c55a11" stroke-width="2.5"/>
<line x1="1378.4" y1="780" x2="1358.4" y2="799" stroke="#c55a11" stroke-width="2.5"/>
<circle cx="1368.4" cy="796" r="4.5" fill="#70ad47" stroke="#c55a11" stroke-width="2.5"/>
<text x="4.06" y="25.9" font-size="48.42" textLength="23.19" lengthAdjust="spacingAndGlyphs" stroke="#000" stroke-width="0.55">a</text>
<text x="150.01" y="73.5" font-size="42.97" textLength="255.74" lengthAdjust="spacingAndGlyphs" stroke="#000" stroke-width="0.55">COX1, P=0.019</text>
<text x="457.91" y="77.9" font-size="42.96" textLength="255.67" lengthAdjust="spacingAndGlyphs" stroke="#000" stroke-width="0.55">COX2, P=0.042</text>
<text x="763.69" y="77.9" font-size="43" textLength="293.1" lengthAdjust="spacingAndGlyphs" stroke="#000" stroke-width="0.55">PTGES2, P=0.022</text>
<text x="1087.58" y="82.2" font-size="43.18" textLength="279.98" lengthAdjust="spacingAndGlyphs" stroke="#000" stroke-width="0.55">PTGES2, protein</text>
<text x="1167.5" y="132.8" font-size="42.82" textLength="119.75" lengthAdjust="spacingAndGlyphs" stroke="#000" stroke-width="0.55">p=0.07</text>
<text x="1419.89" y="92.8" font-size="43" textLength="297.1" lengthAdjust="spacingAndGlyphs" stroke="#000" stroke-width="0.55">PTGER2, P=0.026</text>
<text x="0" y="0" font-size="41.95" textLength="105.55" lengthAdjust="spacingAndGlyphs" stroke="#000" stroke-width="0.55" transform="translate(55.5 461.36) rotate(-90)">[R. U.]</text>
<text x="108.37" y="403" font-size="43.08" textLength="294.88" lengthAdjust="spacingAndGlyphs" stroke="#000" stroke-width="0.55">TBXAS1, P=0.075</text>
<text x="463.01" y="402.3" font-size="42.69" textLength="309.88" lengthAdjust="spacingAndGlyphs" stroke="#000" stroke-width="0.55">PLA2G4A P=0.022</text>
<text x="810.42" y="402.1" font-size="42.62" textLength="267.69" lengthAdjust="spacingAndGlyphs" stroke="#000" stroke-width="0.55">PLCB4, P=0.009</text>
<line x1="1012" y1="452.9" x2="1063" y2="452.9" stroke="#ff0000" stroke-width="2.5"/>
<g clip-path="url(#clipA)">
<text x="1126.48" y="401.4" font-size="43.15" textLength="284.34" lengthAdjust="spacingAndGlyphs" stroke="#000" stroke-width="0.55">PTGIS, P=0.0003</text>
</g>
<line x1="1327" y1="582.3" x2="1375" y2="582.3" stroke="#ff0000" stroke-width="2.5"/>
<line x1="1327" y1="590" x2="1375" y2="590" stroke="#ff0000" stroke-width="2.5"/>
<line x1="1339" y1="575.8" x2="1363" y2="599.3" stroke="#c55a11" stroke-width="2.2"/>
<line x1="1363" y1="575.8" x2="1339" y2="599.3" stroke="#c55a11" stroke-width="2.2"/>
<circle cx="1351" cy="594" r="4" fill="#ff0000"/>
<text x="101.98" y="671.7" font-size="43.02" textLength="303.02" lengthAdjust="spacingAndGlyphs" stroke="#000" stroke-width="0.55">XDH/XO, P=0.004</text>
<line x1="328" y1="754.4" x2="350" y2="776.6" stroke="#c55a11" stroke-width="2.2"/>
<line x1="350" y1="754.4" x2="328" y2="776.6" stroke="#c55a11" stroke-width="2.2"/>
<circle cx="339.3" cy="783" r="5" fill="#ff0000" stroke="#c55a11" stroke-width="2.2"/>
<text x="444.01" y="672.7" font-size="42.78" textLength="265.54" lengthAdjust="spacingAndGlyphs" stroke="#000" stroke-width="0.55">PRDX2 P=0.009</text>
<text x="781.17" y="678.1" font-size="42.83" textLength="118.76" lengthAdjust="spacingAndGlyphs" stroke="#000" stroke-width="0.55">TNNT2</text>
<text x="919.62" y="678.1" font-size="42.62" textLength="162.03" lengthAdjust="spacingAndGlyphs" stroke="#000" stroke-width="0.55">P=0.0017</text>
<text x="1133.87" y="676.5" font-size="42.88" textLength="270.23" lengthAdjust="spacingAndGlyphs" stroke="#000" stroke-width="0.55">TNNT2 p=0.058</text>
<rect x="140.4" y="912.3" width="778.1" height="73.1" fill="#bfbfbf"/>
<rect x="151.6" y="1279.7" width="763.8" height="42.8" fill="#bfbfbf"/>
<text x="0.58" y="960.6" font-size="45.95" textLength="24.14" lengthAdjust="spacingAndGlyphs" stroke="#000" stroke-width="0.55">b</text>
<text x="154.27" y="966" font-size="43.25" textLength="152.48" lengthAdjust="spacingAndGlyphs" stroke="#000" stroke-width="0.55">Uric acid</text>
<text x="589.18" y="966.1" font-size="43.14" textLength="237.96" lengthAdjust="spacingAndGlyphs" stroke="#000" stroke-width="0.55">hypoxanthine</text>
<text x="0" y="0" font-size="43.01" textLength="108.22" lengthAdjust="spacingAndGlyphs" stroke="#000" stroke-width="0.55" transform="translate(84.5 1183.94) rotate(-90)">[R. U.]</text>
<line x1="222.4" y1="1082" x2="480.3" y2="1082" stroke="#e6e6e6" stroke-width="1.5"/>
<line x1="222.4" y1="1118.6" x2="480.3" y2="1118.6" stroke="#e6e6e6" stroke-width="1.5"/>
<line x1="222.4" y1="1155.4" x2="480.3" y2="1155.4" stroke="#e6e6e6" stroke-width="1.5"/>
<line x1="222.4" y1="1191.7" x2="480.3" y2="1191.7" stroke="#e6e6e6" stroke-width="1.5"/>
<line x1="222.4" y1="1227.6" x2="480.3" y2="1227.6" stroke="#e6e6e6" stroke-width="1.5"/>
<line x1="222.4" y1="1263.7" x2="480.3" y2="1263.7" stroke="#e6e6e6" stroke-width="1.5"/>
<line x1="222.4" y1="1078" x2="222.4" y2="1264" stroke="#ededed" stroke-width="1.5"/>
<line x1="263.2" y1="1190.4" x2="263.2" y2="1192" stroke="#4a5fa8" stroke-width="1.3"/>
<line x1="258.2" y1="1190.4" x2="268.2" y2="1190.4" stroke="#4a5fa8" stroke-width="1.3"/>
<line x1="263.2" y1="1214.5" x2="263.2" y2="1218.5" stroke="#4a5fa8" stroke-width="1.3"/>
<line x1="258.2" y1="1218.5" x2="268.2" y2="1218.5" stroke="#4a5fa8" stroke-width="1.3"/>
<rect x="245.5" y="1192" width="35.3" height="22.5" fill="#ffd000" stroke="#4a5fa8" stroke-width="1.3"/>
<line x1="245.5" y1="1200.5" x2="280.8" y2="1200.5" stroke="#8a8a40" stroke-width="1.3"/>
<line x1="260" y1="1198.8" x2="266.4" y2="1205.2" stroke="#4a5fa8" stroke-width="1.3"/>
<line x1="266.4" y1="1198.8" x2="260" y2="1205.2" stroke="#4a5fa8" stroke-width="1.3"/>
<line x1="302.2" y1="1140.8" x2="302.2" y2="1184.4" stroke="#4a5fa8" stroke-width="1.3"/>
<line x1="297.05" y1="1184.4" x2="307.35" y2="1184.4" stroke="#4a5fa8" stroke-width="1.3"/>
<rect x="284.1" y="1097.2" width="36" height="43.6" fill="#e04cd2" stroke="#4a5fa8" stroke-width="1.3"/>
<line x1="284.1" y1="1111.2" x2="320.1" y2="1111.2" stroke="#4a5fa8" stroke-width="1.3"/>
<line x1="299" y1="1123.3" x2="305.4" y2="1129.7" stroke="#4a5fa8" stroke-width="1.3"/>
<line x1="305.4" y1="1123.3" x2="299" y2="1129.7" stroke="#4a5fa8" stroke-width="1.3"/>
<circle cx="302.2" cy="1097.5" r="2" fill="#e04cd2" stroke="#4a5fa8" stroke-width="1"/>
<line x1="376.5" y1="1173" x2="376.5" y2="1186.3" stroke="#4a5fa8" stroke-width="1.3"/>
<line x1="371.45" y1="1173" x2="381.55" y2="1173" stroke="#4a5fa8" stroke-width="1.3"/>
<line x1="376.5" y1="1249.2" x2="376.5" y2="1254.5" stroke="#4a5fa8" stroke-width="1.3"/>
<line x1="371.45" y1="1254.5" x2="381.55" y2="1254.5" stroke="#4a5fa8" stroke-width="1.3"/>
<rect x="359" y="1186.3" width="35.1" height="62.9" fill="#ffd000" stroke="#4a5fa8" stroke-width="1.3"/>
<line x1="359" y1="1228.4" x2="394.1" y2="1228.4" stroke="#8a8a40" stroke-width="1.3"/>
<line x1="373.3" y1="1218.4" x2="379.7" y2="1224.8" stroke="#4a5fa8" stroke-width="1.3"/>
<line x1="379.7" y1="1218.4" x2="373.3" y2="1224.8" stroke="#4a5fa8" stroke-width="1.3"/>
<line x1="415.3" y1="1220.6" x2="415.3" y2="1225.9" stroke="#4a5fa8" stroke-width="1.3"/>
<line x1="410.3" y1="1220.6" x2="420.3" y2="1220.6" stroke="#4a5fa8" stroke-width="1.3"/>
<line x1="415.3" y1="1258.4" x2="415.3" y2="1262.4" stroke="#4a5fa8" stroke-width="1.3"/>
<line x1="410.3" y1="1262.4" x2="420.3" y2="1262.4" stroke="#4a5fa8" stroke-width="1.3"/>
<rect x="397.4" y="1225.9" width="36" height="32.5" fill="#e04cd2" stroke="#4a5fa8" stroke-width="1.3"/>
<line x1="397.4" y1="1243.1" x2="433.4" y2="1243.1" stroke="#4a5fa8" stroke-width="1.3"/>
<line x1="412.1" y1="1239.8" x2="418.5" y2="1246.2" stroke="#4a5fa8" stroke-width="1.3"/>
<line x1="418.5" y1="1239.8" x2="412.1" y2="1246.2" stroke="#4a5fa8" stroke-width="1.3"/>
<path d="M236 1084.4 V1071.5 H313.4 V1084.4" fill="none" stroke="#000" stroke-width="1.8"/>
<path d="M380.2 1125 V1110.8 H457.8 V1125" fill="none" stroke="#000" stroke-width="1.8"/>
<text x="221.33" y="1056.4" font-size="42.74" textLength="97.45" lengthAdjust="spacingAndGlyphs" stroke="#000" stroke-width="0.55">0.029</text>
<text x="376.12" y="1095" font-size="43.03" textLength="98.11" lengthAdjust="spacingAndGlyphs" stroke="#000" stroke-width="0.55">0.431</text>
<line x1="246" y1="1280.2" x2="334.9" y2="1280.2" stroke="#000" stroke-width="4.3"/>
<line x1="362.2" y1="1279.3" x2="451.1" y2="1279.3" stroke="#000" stroke-width="4.3"/>
<text x="245.36" y="1323.5" font-size="42.34" textLength="100.01" lengthAdjust="spacingAndGlyphs" stroke="#000" stroke-width="0.55">tissue</text>
<text x="365.17" y="1323.5" font-size="43.23" textLength="100.95" lengthAdjust="spacingAndGlyphs" stroke="#000" stroke-width="0.55">blood</text>
<line x1="672.8" y1="1028.3" x2="897.5" y2="1028.3" stroke="#e6e6e6" stroke-width="1.5"/>
<line x1="672.8" y1="1058.9" x2="897.5" y2="1058.9" stroke="#e6e6e6" stroke-width="1.5"/>
<line x1="672.8" y1="1089.5" x2="897.5" y2="1089.5" stroke="#e6e6e6" stroke-width="1.5"/>
<line x1="672.8" y1="1120.1" x2="897.5" y2="1120.1" stroke="#e6e6e6" stroke-width="1.5"/>
<line x1="672.8" y1="1150.7" x2="897.5" y2="1150.7" stroke="#e6e6e6" stroke-width="1.5"/>
<line x1="672.8" y1="1181.3" x2="897.5" y2="1181.3" stroke="#e6e6e6" stroke-width="1.5"/>
<line x1="672.8" y1="1211.9" x2="897.5" y2="1211.9" stroke="#e6e6e6" stroke-width="1.5"/>
<line x1="672.8" y1="1242.4" x2="897.5" y2="1242.4" stroke="#e6e6e6" stroke-width="1.5"/>
<line x1="672.8" y1="1006.4" x2="672.8" y2="1242.4" stroke="#ededed" stroke-width="1.5"/>
<line x1="711.8" y1="1025.1" x2="711.8" y2="1076.7" stroke="#4a5fa8" stroke-width="1.3"/>
<line x1="705" y1="1025.1" x2="718.6" y2="1025.1" stroke="#4a5fa8" stroke-width="1.3"/>
<line x1="711.8" y1="1120.2" x2="711.8" y2="1141.8" stroke="#4a5fa8" stroke-width="1.3"/>
<line x1="705" y1="1141.8" x2="718.6" y2="1141.8" stroke="#4a5fa8" stroke-width="1.3"/>
<rect x="688.9" y="1076.7" width="45.8" height="43.5" fill="#ffd966" stroke="#4a5fa8" stroke-width="1.3"/>
<line x1="688.9" y1="1103.7" x2="734.7" y2="1103.7" stroke="#4a5fa8" stroke-width="1.3"/>
<line x1="708.6" y1="1090.2" x2="715" y2="1096.6" stroke="#4a5fa8" stroke-width="1.3"/>
<line x1="715" y1="1090.2" x2="708.6" y2="1096.6" stroke="#4a5fa8" stroke-width="1.3"/>
<circle cx="711.8" cy="1112.8" r="1.6" fill="none" stroke="#4a5fa8" stroke-width="1"/>
<line x1="762.7" y1="1157.3" x2="762.7" y2="1159.5" stroke="#4a5fa8" stroke-width="1.3"/>
<line x1="757.7" y1="1157.3" x2="767.7" y2="1157.3" stroke="#4a5fa8" stroke-width="1.3"/>
<line x1="762.7" y1="1192.7" x2="762.7" y2="1210.1" stroke="#4a5fa8" stroke-width="1.3"/>
<line x1="757.7" y1="1210.1" x2="767.7" y2="1210.1" stroke="#4a5fa8" stroke-width="1.3"/>
<rect x="740.2" y="1159.5" width="45.4" height="33.2" fill="#ff33ff" stroke="#4a5fa8" stroke-width="1.3"/>
<line x1="740.2" y1="1174" x2="785.6" y2="1174" stroke="#4a5fa8" stroke-width="1.3"/>
<line x1="759.5" y1="1174.8" x2="765.9" y2="1181.2" stroke="#4a5fa8" stroke-width="1.3"/>
<line x1="765.9" y1="1174.8" x2="759.5" y2="1181.2" stroke="#4a5fa8" stroke-width="1.3"/>
<circle cx="762.7" cy="1186" r="1.6" fill="none" stroke="#4a5fa8" stroke-width="1"/>
<line x1="796.6" y1="1236.2" x2="841.7" y2="1236.2" stroke="#4472c4" stroke-width="2.5"/>
<line x1="847.5" y1="1235.3" x2="893.3" y2="1235.3" stroke="#ed7d31" stroke-width="2.5"/>
<path d="M816 1233 l4 6 M820 1233 l-4 6" stroke="#4472c4" stroke-width="1.2"/>
<path d="M868 1232 l4 6 M872 1232 l-4 6" stroke="#ed7d31" stroke-width="1.2"/>
<line x1="796" y1="1242.4" x2="897.5" y2="1242.4" stroke="#c5cde0" stroke-width="1.5"/>
<path d="M718.6 1064.4 V1050.5 H796.9 V1064.4" fill="none" stroke="#000" stroke-width="1.8"/>
<path d="M809.8 1175.6 V1163.4 H888.4 V1175.6" fill="none" stroke="#000" stroke-width="1.8"/>
<text x="699.74" y="1039.3" font-size="42.47" textLength="96.83" lengthAdjust="spacingAndGlyphs" stroke="#000" stroke-width="0.55">0.039</text>
<text x="800.63" y="1149.8" font-size="42.93" textLength="97.89" lengthAdjust="spacingAndGlyphs" stroke="#000" stroke-width="0.55">0.792</text>
<line x1="684" y1="1262.7" x2="767.6" y2="1262.7" stroke="#000" stroke-width="4.3"/>
<line x1="799.8" y1="1262" x2="883" y2="1262" stroke="#000" stroke-width="4.3"/>
<text x="679.26" y="1323.5" font-size="42.55" textLength="100.52" lengthAdjust="spacingAndGlyphs" stroke="#000" stroke-width="0.55">tissue</text>
<text x="796.17" y="1323.5" font-size="43.33" textLength="101.17" lengthAdjust="spacingAndGlyphs" stroke="#000" stroke-width="0.55">blood</text>
<text x="1164.02" y="1045.9" font-size="42.77" textLength="44.29" lengthAdjust="spacingAndGlyphs" stroke="#000" stroke-width="0.55">LD</text>
<text x="1226.64" y="1045.9" font-size="43.26" textLength="92.65" lengthAdjust="spacingAndGlyphs" stroke="#000" stroke-width="0.55">MetS</text>
<text x="1013.94" y="1086" font-size="46.5" textLength="137.74" lengthAdjust="spacingAndGlyphs" stroke="#000" stroke-width="0.55">protein</text>
<text x="989.42" y="1159.7" font-size="46.8" textLength="159.46" lengthAdjust="spacingAndGlyphs" stroke="#000" stroke-width="0.55">RNA seq</text>
<text x="944.24" y="1231.1" font-size="46.53" textLength="205.95" lengthAdjust="spacingAndGlyphs" stroke="#000" stroke-width="0.55">metabolite</text>
<text x="1163.59" y="1292.9" font-size="43.3" textLength="44.84" lengthAdjust="spacingAndGlyphs" stroke="#000" stroke-width="0.55">LD</text>
<text x="1225.71" y="1292.9" font-size="43.65" textLength="93.49" lengthAdjust="spacingAndGlyphs" stroke="#000" stroke-width="0.55">MetS</text>
<rect x="1175" y="1060" width="53.5" height="50.9" fill="#ffc000"/>
<rect x="1246.3" y="1061.3" width="54.2" height="51.1" fill="#92d050"/>
<rect x="1175" y="1126.7" width="53.5" height="50.9" fill="#0070c0"/>
<rect x="1246.3" y="1127.2" width="54.2" height="51.1" fill="#ff0000"/>
<rect x="1175" y="1193.1" width="53.5" height="50.9" fill="#ffc000"/>
<rect x="1246.3" y="1193.8" width="54.2" height="50.8" fill="#e056d8"/>
<text x="1477.48" y="409.1" font-size="46.3" textLength="19.58" lengthAdjust="spacingAndGlyphs" stroke="#000" stroke-width="0.55">c</text>
<text x="-2.97" y="0" font-size="42.47" textLength="106.63" lengthAdjust="spacingAndGlyphs" transform="translate(1578.9 493) rotate(-33)" stroke="#000" stroke-width="0.55">PLCB4</text>
<text x="-2.92" y="0" font-size="41.75" textLength="156.08" lengthAdjust="spacingAndGlyphs" transform="translate(1790.1 445.8) rotate(46)" stroke="#000" stroke-width="0.55">PLA2G4A</text>
<line x1="1674.9" y1="425.4" x2="1674.9" y2="441" stroke="#000" stroke-width="4.2"/>
<path d="M1674.9 401.8 L1686.4 425.4 L1663.4 425.4 Z" fill="#000"/>
<line x1="1782.6" y1="424" x2="1782.6" y2="439.7" stroke="#000" stroke-width="4.2"/>
<path d="M1782.6 400.5 L1794 424 L1771.2 424 Z" fill="#000"/>
<line x1="1639" y1="575.7" x2="1639" y2="591.4" stroke="#000" stroke-width="4.2"/>
<path d="M1639 553.5 L1650.4 575.7 L1627.6 575.7 Z" fill="#000"/>
<line x1="1814.8" y1="573" x2="1814.8" y2="589.5" stroke="#000" stroke-width="4.2"/>
<path d="M1814.8 550.8 L1826.3 573 L1803.3 573 Z" fill="#000"/>
<path d="M1656.8 450.2 V459.5 Q1656.8 464.5 1661.8 464.5 H1791.5 Q1796.5 464.5 1796.5 459.5 V450.2" fill="none" stroke="#4472c4" stroke-width="6.5"/>
<line x1="1725.5" y1="489.4" x2="1725.5" y2="473.7" stroke="#4472c4" stroke-width="7"/>
<path d="M1725.5 511.6 L1737.3 489.4 L1713.7 489.4 Z" fill="#4472c4"/>
<text x="1704.19" y="541.7" font-size="41.83" textLength="48.4" lengthAdjust="spacingAndGlyphs" stroke="#000" stroke-width="0.55">AA</text>
<line x1="1723" y1="566.5" x2="1723" y2="550.8" stroke="#4472c4" stroke-width="7"/>
<path d="M1723 589.5 L1734.4 566.5 L1711.6 566.5 Z" fill="#4472c4"/>
<text x="1617.91" y="628" font-size="42.99" textLength="93.78" lengthAdjust="spacingAndGlyphs" stroke="#000" stroke-width="0.55">COX1</text>
<text x="1714.99" y="628" font-size="42.81" textLength="122.57" lengthAdjust="spacingAndGlyphs" stroke="#000" stroke-width="0.55">&amp;COX2</text>
<path d="M1637.5 638.4 V647.8 Q1637.5 652.8 1642.5 652.8 H1819.7 Q1824.7 652.8 1824.7 647.8 V638.4" fill="none" stroke="#4472c4" stroke-width="6.5"/>
<text x="1670.83" y="698.6" font-size="43.34" textLength="98.71" lengthAdjust="spacingAndGlyphs" stroke="#ff0000" stroke-width="0.55" font-style="italic" fill="#ff0000">PGH2</text>
<path d="M1401 1023.8 L1737.5 908.8 Q1741.5 906.8 1745.5 908.8 L1986.3 989.5 V1023.8 Z" fill="url(#gMnt)"/>
<ellipse cx="1640" cy="875" rx="92.6" ry="80" fill="url(#gPGE)"/>
<ellipse cx="1867.3" cy="891.3" rx="96.7" ry="80" fill="url(#gTXA)"/>
<ellipse cx="1494.2" cy="851.8" rx="82.4" ry="83.7" fill="url(#gPGI)"/>
<rect x="1468.8" y="722" width="2" height="3" fill="#d0d0d0"/>
<rect x="1468.8" y="760.2" width="2" height="3" fill="#d0d0d0"/>
<path d="M1552 811 C1612 745 1795 720 1863 827" fill="none" stroke="#4472c4" stroke-width="6.6"/>
<line x1="1719" y1="733.2" x2="1719" y2="709.9" stroke="#4472c4" stroke-width="7"/>
<path d="M1719 751.7 L1731 733.2 L1707 733.2 Z" fill="#4472c4"/>
<line x1="1423.4" y1="858.6" x2="1423.4" y2="832.3" stroke="#000" stroke-width="4.2"/>
<path d="M1423.4 880.7 L1435.4 858.6 L1411.4 858.6 Z" fill="#000"/>
<line x1="1727.1" y1="891.5" x2="1727.1" y2="907" stroke="#000" stroke-width="4.2"/>
<path d="M1727.1 868.2 L1738.4 891.5 L1715.8 891.5 Z" fill="#000"/>
<line x1="1792.3" y1="892" x2="1792.3" y2="907" stroke="#000" stroke-width="4.2"/>
<path d="M1792.3 868.2 L1803.9 892 L1780.7 892 Z" fill="#000"/>
<text x="1449.55" y="848.8" font-size="42.93" textLength="81.83" lengthAdjust="spacingAndGlyphs" stroke="#ff0000" stroke-width="0.55" font-style="italic" fill="#ff0000">PGI2</text>
<text x="1440.3" y="897.1" font-size="44.34" textLength="102.57" lengthAdjust="spacingAndGlyphs" stroke="#000" stroke-width="0.55">PTGIS</text>
<text x="1600.45" y="833" font-size="43.08" textLength="92.3" lengthAdjust="spacingAndGlyphs" stroke="#ff0000" stroke-width="0.55" font-style="italic" fill="#ff0000">PGE2</text>
<text x="1580.15" y="884.6" font-size="43.62" textLength="132.88" lengthAdjust="spacingAndGlyphs" stroke="#000" stroke-width="0.55">PTGES1</text>
<text x="1578.66" y="936" font-size="43.37" textLength="136.16" lengthAdjust="spacingAndGlyphs" stroke="#000" stroke-width="0.55">PTGER2</text>
<text x="1829.4" y="885.5" font-size="41.73" textLength="87.29" lengthAdjust="spacingAndGlyphs" stroke="#ff0000" stroke-width="0.55" font-style="italic" fill="#ff0000">TXA2</text>
<text x="1806.17" y="936" font-size="42.79" textLength="131.52" lengthAdjust="spacingAndGlyphs" stroke="#000" stroke-width="0.55">TBXAS1</text>
<text x="1512.05" y="1005" font-size="40.52" textLength="231.78" lengthAdjust="spacingAndGlyphs" stroke="#000" stroke-width="0.55">inflammation</text>
<text x="1789.21" y="1002" font-size="42.66" textLength="148.69" lengthAdjust="spacingAndGlyphs" stroke="#000" stroke-width="0.55">Platelets</text>
<text x="1642.04" y="1054.9" font-size="46.5" textLength="242.17" lengthAdjust="spacingAndGlyphs" stroke="#000" stroke-width="0.55">Endothelium</text>
</svg>
</body></html>
